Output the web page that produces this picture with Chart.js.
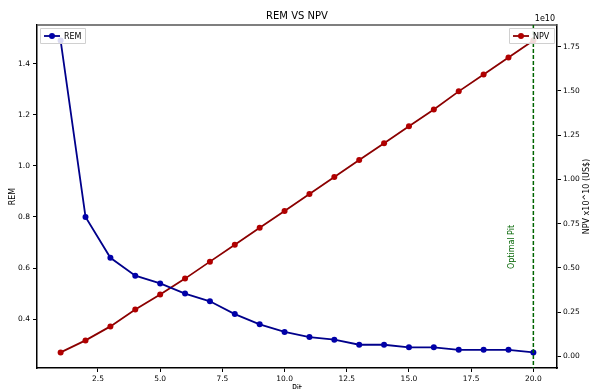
<!DOCTYPE html>
<html>
<head>
<meta charset="utf-8">
<script src="https://cdn.jsdelivr.net/npm/chart.js@4"></script>
<style>
  html, body { margin: 0; padding: 0; background: #fff; }
  #wrap { width: 590px; height: 389px; }
</style>
</head>
<body>
<div id="wrap"><canvas id="remNpv" width="590" height="389"></canvas></div>
<script>
// pit number
const pits = [1, 2, 3, 4, 5, 6, 7, 8, 9, 10, 11, 12, 13, 14, 15, 16, 17, 18, 19, 20];
// REM per pit
const remValues = [1.49, 0.80, 0.64, 0.57, 0.54, 0.50, 0.47, 0.42, 0.38, 0.35,
                   0.33, 0.32, 0.30, 0.30, 0.29, 0.29, 0.28, 0.28, 0.28, 0.27];
// NPV per pit, US$
const npvValues = [0.022e10, 0.090e10, 0.169e10, 0.264e10, 0.349e10, 0.439e10, 0.535e10,
                   0.630e10, 0.726e10, 0.821e10, 0.917e10, 1.013e10, 1.109e10, 1.204e10,
                   1.300e10, 1.395e10, 1.497e10, 1.592e10, 1.688e10, 1.784e10];
const optimalPit = 20;

const xTicks = [2.5, 5.0, 7.5, 10.0, 12.5, 15.0, 17.5, 20.0];
const remTicks = [0.4, 0.6, 0.8, 1.0, 1.2, 1.4];
const npvTicks = [0, 0.25e10, 0.5e10, 0.75e10, 1.0e10, 1.25e10, 1.5e10, 1.75e10];

const tickFont = { family: 'DejaVu Sans', size: 7.5 };

function fixTicks(list) {
    return function (scale) {
        scale.ticks = list.map(v => ({ value: v }));
    };
}

// spine, dashed line, titles and legends drawn over the chart
const extras = {
    id: 'extras',
    afterDatasetsDraw(chart) {
        const ctx = chart.ctx;
        const area = chart.chartArea;
        const xs = chart.scales.x;
        const px = xs.getPixelForValue(optimalPit);
        const midY = (area.top + area.bottom) / 2;

        ctx.save();
        // top spine
        ctx.strokeStyle = '#555';
        ctx.lineWidth = 1.5;
        ctx.beginPath();
        ctx.moveTo(area.left, area.top);
        ctx.lineTo(area.right, area.top);
        ctx.stroke();

        ctx.strokeStyle = '#006400';
        ctx.lineWidth = 1.5;
        ctx.setLineDash([4, 2]);
        ctx.beginPath();
        ctx.moveTo(px, area.top);
        ctx.lineTo(px, area.bottom);
        ctx.stroke();
        ctx.setLineDash([]);

        ctx.fillStyle = '#006400';
        ctx.font = '8px DejaVu Sans';
        ctx.translate(px - 21, 247);
        ctx.rotate(-Math.PI / 2);
        ctx.textAlign = 'center';
        ctx.textBaseline = 'middle';
        ctx.fillText('Optimal Pit', 0, 0);
        ctx.restore();

        ctx.save();
        ctx.fillStyle = '#000';
        ctx.font = '10px DejaVu Sans';
        ctx.textAlign = 'center';
        ctx.textBaseline = 'middle';
        ctx.fillText('REM VS NPV', (area.left + area.right) / 2, 16);
        ctx.font = '8px DejaVu Sans';
        ctx.textAlign = 'right';
        ctx.fillText('1e10', area.right - 2, 19);

        // x axis title, cut by the bottom edge as in the source
        ctx.textAlign = 'center';
        ctx.textBaseline = 'top';
        ctx.fillText('Pit', (area.left + area.right) / 2, 385);

        // axis titles, reading upwards
        ctx.textBaseline = 'middle';
        ctx.save();
        ctx.translate(13, midY);
        ctx.rotate(-Math.PI / 2);
        ctx.fillText('REM', 0, 0);
        ctx.restore();

        ctx.save();
        ctx.translate(587, midY);
        ctx.rotate(-Math.PI / 2);
        ctx.fillText('NPV x10^10 (US$)', 0, 0);
        ctx.restore();

        // legends
        drawLegend(ctx, area.left + 3, area.top + 3, 'REM', '#00008b', '#0000a8');
        drawLegend(ctx, area.right - 48, area.top + 3, 'NPV', '#8b0000', '#b00000');
        ctx.restore();
    }
};

function drawLegend(ctx, x, y, label, lineColor, dotColor) {
    ctx.save();
    ctx.fillStyle = 'rgba(255,255,255,0.85)';
    ctx.strokeStyle = '#d0d0d0';
    ctx.lineWidth = 1;
    ctx.beginPath();
    ctx.rect(x + 0.5, y + 0.5, 45, 15);
    ctx.fill();
    ctx.stroke();
    ctx.strokeStyle = lineColor;
    ctx.lineWidth = 1.8;
    ctx.beginPath();
    ctx.moveTo(x + 4, y + 8);
    ctx.lineTo(x + 20, y + 8);
    ctx.stroke();
    ctx.fillStyle = dotColor;
    ctx.beginPath();
    ctx.arc(x + 12, y + 8, 3, 0, Math.PI * 2);
    ctx.fill();
    ctx.fillStyle = '#000';
    ctx.font = '8px DejaVu Sans';
    ctx.textAlign = 'left';
    ctx.textBaseline = 'middle';
    ctx.fillText(label, x + 24, y + 8.5);
    ctx.restore();
}

const ctx = document.getElementById('remNpv').getContext('2d');

new Chart(ctx, {
    type: 'line',
    data: {
        labels: pits,
        datasets: [
            {
                label: 'REM',
                data: pits.map((p, i) => ({ x: p, y: remValues[i] })),
                yAxisID: 'y',
                borderColor: '#00008b',
                backgroundColor: '#0000a8',
                borderWidth: 1.8,
                pointRadius: 3,
                pointBorderWidth: 0,
                tension: 0,
                fill: false
            },
            {
                label: 'NPV',
                data: pits.map((p, i) => ({ x: p, y: npvValues[i] })),
                yAxisID: 'y1',
                borderColor: '#8b0000',
                backgroundColor: '#b00000',
                borderWidth: 1.8,
                pointRadius: 3,
                pointBorderWidth: 0,
                tension: 0,
                fill: false
            }
        ]
    },
    options: {
        responsive: false,
        animation: false,
        devicePixelRatio: 1,
        layout: { padding: { top: 25, left: 0, right: 0, bottom: 0 } },
        plugins: {
            legend: { display: false },
            title: { display: false },
            tooltip: { enabled: false }
        },
        scales: {
            x: {
                type: 'linear',
                min: 0.05,
                max: 20.95,
                afterBuildTicks: fixTicks(xTicks),
                afterFit(scale) { scale.height = 21; },
                ticks: {
                    font: tickFont,
                    color: '#000',
                    padding: 3,
                    maxRotation: 0,
                    callback: v => v.toFixed(1)
                },
                grid: { drawOnChartArea: false, drawTicks: true, tickLength: 4, color: '#000' },
                border: { display: true, color: '#000', width: 1.5 },
                title: { display: false }
            },
            y: {
                type: 'linear',
                position: 'left',
                min: 0.209,
                max: 1.551,
                afterBuildTicks: fixTicks(remTicks),
                afterFit(scale) { scale.width = 37; },
                ticks: {
                    font: tickFont,
                    color: '#000',
                    padding: 3,
                    callback: v => v.toFixed(1)
                },
                grid: { drawOnChartArea: false, drawTicks: true, tickLength: 4, color: '#000' },
                border: { display: true, color: '#000', width: 1.5 },
                title: { display: false }
            },
            y1: {
                type: 'linear',
                position: 'right',
                min: -0.066e10,
                max: 1.872e10,
                afterBuildTicks: fixTicks(npvTicks),
                afterFit(scale) { scale.width = 33; },
                ticks: {
                    font: tickFont,
                    color: '#000',
                    padding: 2,
                    callback: v => (v / 1e10).toFixed(2)
                },
                grid: { drawOnChartArea: false, drawTicks: true, tickLength: 4, color: '#000' },
                border: { display: true, color: '#000', width: 1.5 },
                title: { display: false }
            }
        }
    },
    plugins: [extras]
});
</script>
</body>
</html>
